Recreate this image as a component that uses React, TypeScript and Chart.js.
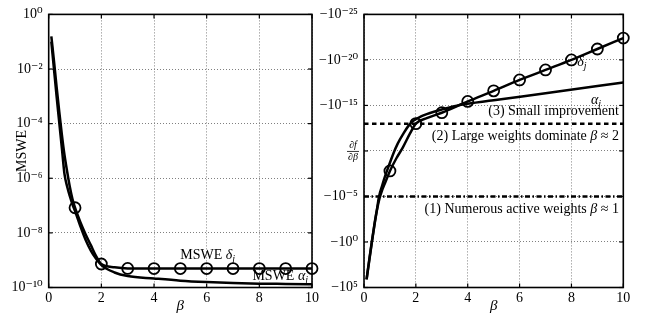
import React, { useEffect, useRef } from 'react';
import { Chart, registerables } from 'chart.js';
Chart.register(...registerables);

const FONT = "'Liberation Serif', 'Times New Roman', 'DejaVu Serif', serif";

// ---------- Left panel: MSWE vs beta ----------
const leftBeta = [0.1, 0.2, 0.3, 0.4, 0.5, 0.6, 0.7, 0.8, 0.9, 1, 1.2, 1.4, 1.6, 1.8, 2, 2.5, 3, 4, 5, 6, 7, 8, 9, 10];
const msweDelta = [1.58e-1, 2.0e-2, 2.24e-3, 2.82e-4, 3.98e-5, 7.08e-6, 1.78e-6, 5.01e-7, 1.78e-7, 8.32e-8, 2.51e-8, 8.91e-9, 3.55e-9, 1.41e-9, 7.24e-10, 5.5e-10, 5.0e-10, 4.95e-10, 4.95e-10, 4.95e-10, 4.95e-10, 4.95e-10, 4.95e-10, 4.95e-10];
const msweAlpha = [1.0e-1, 1.0e-2, 1.0e-3, 1.12e-4, 1.26e-5, 1.41e-6, 5.01e-7, 2.24e-7, 1.12e-7, 6.31e-8, 1.78e-8, 5.62e-9, 2.24e-9, 1.12e-9, 6.61e-10, 3.55e-10, 2.63e-10, 2.14e-10, 1.78e-10, 1.58e-10, 1.45e-10, 1.38e-10, 1.35e-10, 1.32e-10];
const leftYTickValues = [1e-10, 1e-8, 1e-6, 1e-4, 1e-2, 1];
const leftYTickLabels = ['10⁻¹⁰', '10⁻⁸', '10⁻⁶', '10⁻⁴', '10⁻²', '10⁰'];

// ---------- Right panel: df/dbeta vs beta (magnitudes, axis shows −10^k) ----------
const rightDeltaBeta = [0.1, 0.2, 0.3, 0.4, 0.5, 0.6, 0.7, 0.8, 0.9, 1, 1.25, 1.5, 1.77, 2, 2.42, 3, 4, 5, 6, 7, 8, 9, 10];
const dfDelta = [1.26e4, 1.26e2, 1.26, 1.58e-2, 3.16e-4, 1.58e-5, 2.0e-6, 3.98e-7, 7.94e-8, 1.58e-8, 6.31e-10, 3.98e-11, 1.26e-12, 1.0e-13, 2.51e-14, 6.31e-15, 3.63e-16, 2.51e-17, 1.58e-18, 1.26e-19, 1.0e-20, 6.31e-22, 3.98e-23];
const rightAlphaBeta = [0.1, 0.2, 0.3, 0.4, 0.5, 0.58, 0.7, 0.81, 1, 1.13, 1.3, 1.52, 1.7, 1.9, 2.2, 2.42, 3.06, 3.7, 5, 7, 10];
const dfAlpha = [1.26e4, 1.0e2, 1.0, 1.26e-2, 2.51e-4, 1.0e-5, 6.31e-7, 6.31e-8, 2.0e-9, 2.0e-10, 1.58e-11, 1.26e-12, 2.0e-13, 5.01e-14, 1.58e-14, 8.91e-15, 2.51e-15, 8.91e-16, 2.75e-16, 4.47e-17, 2.95e-18];
const regimeBeta = [0, 10];
const numerousActiveLevel = [1e-5, 1e-5];
const largeWeightsLevel = [1e-13, 1e-13];
const rightYTickValues = [1e5, 1, 1e-5, 1e-10, 1e-15, 1e-20, 1e-25];
const rightYTickLabels = ['−10⁵', '−10⁰', '−10⁻⁵', '', '−10⁻¹⁵', '−10⁻²⁰', '−10⁻²⁵'];

const xTickLabels = ['0', '2', '4', '6', '8', '10'];

type Part = { t: string; it?: boolean; sub?: boolean };

function drawRich(ctx: CanvasRenderingContext2D, parts: Part[], x: number, y: number, align: 'left' | 'right' | 'center', size = 14) {
  const fontFor = (p: Part) => `${p.it ? 'italic ' : ''}${p.sub ? Math.round(size * 0.7) : size}px ${FONT}`;
  let w = 0;
  parts.forEach((p) => { ctx.font = fontFor(p); w += ctx.measureText(p.t).width; });
  let cx = align === 'left' ? x : align === 'right' ? x - w : x - w / 2;
  ctx.textBaseline = 'middle';
  ctx.textAlign = 'left';
  ctx.fillStyle = '#000';
  parts.forEach((p) => {
    ctx.font = fontFor(p);
    ctx.fillText(p.t, cx, y + (p.sub ? size * 0.3 : 0));
    cx += ctx.measureText(p.t).width;
  });
}

function makeOverlay(draw: (chart: any) => void) {
  return {
    id: 'overlay',
    afterDraw(chart: any) {
      const { ctx, chartArea: a, scales } = chart;
      ctx.save();
      ctx.strokeStyle = '#000';
      ctx.lineWidth = 1.2;
      const seg = (x1: number, y1: number, x2: number, y2: number) => {
        ctx.beginPath(); ctx.moveTo(x1, y1); ctx.lineTo(x2, y2); ctx.stroke();
      };
      scales.x.ticks.forEach((t: any) => {
        const px = scales.x.getPixelForValue(t.value);
        seg(px, a.bottom, px, a.bottom - 4);
        seg(px, a.top, px, a.top + 4);
      });
      scales.y.ticks.forEach((t: any) => {
        const py = scales.y.getPixelForValue(t.value);
        seg(a.left, py, a.left + 4, py);
        seg(a.right, py, a.right - 4, py);
      });
      ctx.lineWidth = 1.6;
      ctx.strokeRect(a.left, a.top, a.right - a.left, a.bottom - a.top);
      draw(chart);
      ctx.restore();
    },
  };
}

const tickFont = { family: FONT, size: 14 };

function xScale() {
  return {
    type: 'linear',
    min: 0,
    max: 10,
    ticks: { stepSize: 2, font: tickFont, color: '#000', padding: 2, callback: (_v: any, i: number) => xTickLabels[i] },
    grid: { color: '#808080', lineWidth: 1, drawTicks: false },
    border: { display: false, dash: [1, 2] },
    title: { display: true, text: 'β', color: '#000', font: { family: FONT, size: 15, style: 'italic' }, padding: { top: 0, bottom: 8 } },
    afterFit: (s: any) => { s.height = 35.5; },
  };
}

function leftConfig(): any {
  const pts = (xs: number[], ys: number[]) => xs.map((x, i) => ({ x, y: ys[i] }));
  return {
    type: 'line',
    data: {
      datasets: [
        {
          label: 'MSWE α_j',
          data: pts(leftBeta, msweAlpha),
          borderColor: '#000',
          borderWidth: 2.5,
          pointRadius: 0,
          cubicInterpolationMode: 'monotone',
          fill: false,
        },
        {
          label: 'MSWE δ_j',
          data: pts(leftBeta, msweDelta),
          borderColor: '#000',
          borderWidth: 2.5,
          pointRadius: (c: any) => (c.raw && Number.isInteger(c.raw.x) && c.raw.x >= 1 ? 5.5 : 0),
          pointBorderWidth: 1.8,
          pointBorderColor: '#000',
          pointBackgroundColor: 'rgba(0,0,0,0)',
          cubicInterpolationMode: 'monotone',
          fill: false,
          clip: false,
        },
      ],
    },
    options: {
      responsive: false,
      animation: false,
      events: [],
      layout: { padding: { left: 0, right: 335, top: 14, bottom: 0 } },
      plugins: { legend: { display: false }, tooltip: { enabled: false } },
      scales: {
        x: xScale(),
        y: {
          type: 'logarithmic',
          min: 1e-10,
          max: 1,
          afterBuildTicks: (s: any) => { s.ticks = leftYTickValues.map((v) => ({ value: v, major: true })); },
          ticks: { font: tickFont, color: '#000', padding: 6, callback: (_v: any, i: number) => leftYTickLabels[i] },
          grid: { color: '#808080', lineWidth: 1, drawTicks: false },
          border: { display: false, dash: [1, 2] },
          title: { display: true, text: 'MSWE', color: '#000', font: { family: FONT, size: 14 }, padding: { top: 14, bottom: 0 } },
          afterFit: (s: any) => { s.width = 48.7; },
        },
      },
    },
    plugins: [
      makeOverlay((chart: any) => {
        const { ctx, scales } = chart;
        const x = scales.x, y = scales.y;
        drawRich(ctx, [{ t: 'MSWE ' }, { t: 'δ', it: true }, { t: 'j', it: true, sub: true }], x.getPixelForValue(5.0), y.getPixelForValue(1.55e-9), 'left');
        drawRich(ctx, [{ t: 'MSWE ' }, { t: 'α', it: true }, { t: 'j', it: true, sub: true }], x.getPixelForValue(9.85), y.getPixelForValue(2.6e-10), 'right');
      }),
    ],
  };
}

function rightConfig(): any {
  const pts = (xs: number[], ys: number[]) => xs.map((x, i) => ({ x, y: ys[i] }));
  return {
    type: 'line',
    data: {
      datasets: [
        {
          label: 'α_j',
          data: pts(rightAlphaBeta, dfAlpha),
          borderColor: '#000',
          borderWidth: 2.5,
          pointRadius: 0,
          cubicInterpolationMode: 'monotone',
          fill: false,
        },
        {
          label: 'δ_j',
          data: pts(rightDeltaBeta, dfDelta),
          borderColor: '#000',
          borderWidth: 2.5,
          pointRadius: (c: any) => (c.raw && Number.isInteger(c.raw.x) && c.raw.x >= 1 ? 5.5 : 0),
          pointBorderWidth: 1.8,
          pointBorderColor: '#000',
          pointBackgroundColor: 'rgba(0,0,0,0)',
          cubicInterpolationMode: 'monotone',
          fill: false,
          clip: false,
        },
        {
          label: '(2) Large weights dominate',
          data: pts(regimeBeta, largeWeightsLevel),
          borderColor: '#000',
          borderWidth: 2.5,
          borderDash: [4.5, 3.5],
          pointRadius: 0,
          fill: false,
        },
        {
          label: '(1) Numerous active weights',
          data: pts(regimeBeta, numerousActiveLevel),
          borderColor: '#000',
          borderWidth: 2.5,
          borderDash: [5, 2.5, 1.5, 2.5],
          pointRadius: 0,
          fill: false,
        },
      ],
    },
    options: {
      responsive: false,
      animation: false,
      events: [],
      layout: { padding: { left: 316, right: 23.7, top: 14, bottom: 0 } },
      plugins: { legend: { display: false }, tooltip: { enabled: false } },
      scales: {
        x: xScale(),
        y: {
          type: 'logarithmic',
          reverse: true,
          min: 1e-25,
          max: 1e5,
          afterBuildTicks: (s: any) => { s.ticks = rightYTickValues.map((v) => ({ value: v, major: true })); },
          ticks: { font: tickFont, color: '#000', padding: 6, callback: (_v: any, i: number) => rightYTickLabels[i] },
          grid: { color: '#808080', lineWidth: 1, drawTicks: false },
          border: { display: false, dash: [1, 2] },
          afterFit: (s: any) => { s.width = 48; },
        },
      },
    },
    plugins: [
      makeOverlay((chart: any) => {
        const { ctx, scales, chartArea: a } = chart;
        const x = scales.x, y = scales.y;
        // axis label ∂f/∂β placed at the −10^-10 tick
        const fy = y.getPixelForValue(1e-10);
        const fx = a.left - 11;
        ctx.fillStyle = '#000';
        ctx.font = `italic 10px ${FONT}`;
        ctx.textAlign = 'center';
        ctx.textBaseline = 'middle';
        ctx.fillText('∂f', fx, fy - 6);
        ctx.fillText('∂β', fx, fy + 6.5);
        ctx.lineWidth = 0.8;
        ctx.beginPath(); ctx.moveTo(fx - 6, fy + 0.5); ctx.lineTo(fx + 6, fy + 0.5); ctx.stroke();

        const right = x.getPixelForValue(9.83);
        const yl = y.getPixelForValue(largeWeightsLevel[0]);
        const yn = y.getPixelForValue(numerousActiveLevel[0]);
        drawRich(ctx, [{ t: '(3) Small improvement' }], right, yl - 12.3, 'right');
        drawRich(ctx, [{ t: '(2) Large weights dominate ' }, { t: 'β', it: true }, { t: ' ≈ 2' }], right, yl + 12.4, 'right');
        drawRich(ctx, [{ t: '(1) Numerous active weights ' }, { t: 'β', it: true }, { t: ' ≈ 1' }], right, yn + 13.3, 'right');
        drawRich(ctx, [{ t: 'δ', it: true }, { t: 'j', it: true, sub: true }], x.getPixelForValue(8.4), y.getPixelForValue(1e-20) + 2, 'center');
        drawRich(ctx, [{ t: 'α', it: true }, { t: 'j', it: true, sub: true }], x.getPixelForValue(8.95), y.getPixelForValue(3.5e-16) - 1, 'center');
      }),
    ],
  };
}

export default function App() {
  const leftRef = useRef<HTMLCanvasElement>(null);
  const rightRef = useRef<HTMLCanvasElement>(null);
  useEffect(() => {
    const c1 = new Chart(leftRef.current as HTMLCanvasElement, leftConfig());
    const c2 = new Chart(rightRef.current as HTMLCanvasElement, rightConfig());
    return () => {
      c1.destroy();
      c2.destroy();
    };
  }, []);
  return (
    <div style={{ position: 'absolute', left: 0, top: 0, width: 647, height: 323, background: '#fff' }}>
      <canvas ref={leftRef} width={647} height={323} style={{ position: 'absolute', left: 0, top: 0 }} />
      <canvas ref={rightRef} width={647} height={323} style={{ position: 'absolute', left: 0, top: 0 }} />
    </div>
  );
}
